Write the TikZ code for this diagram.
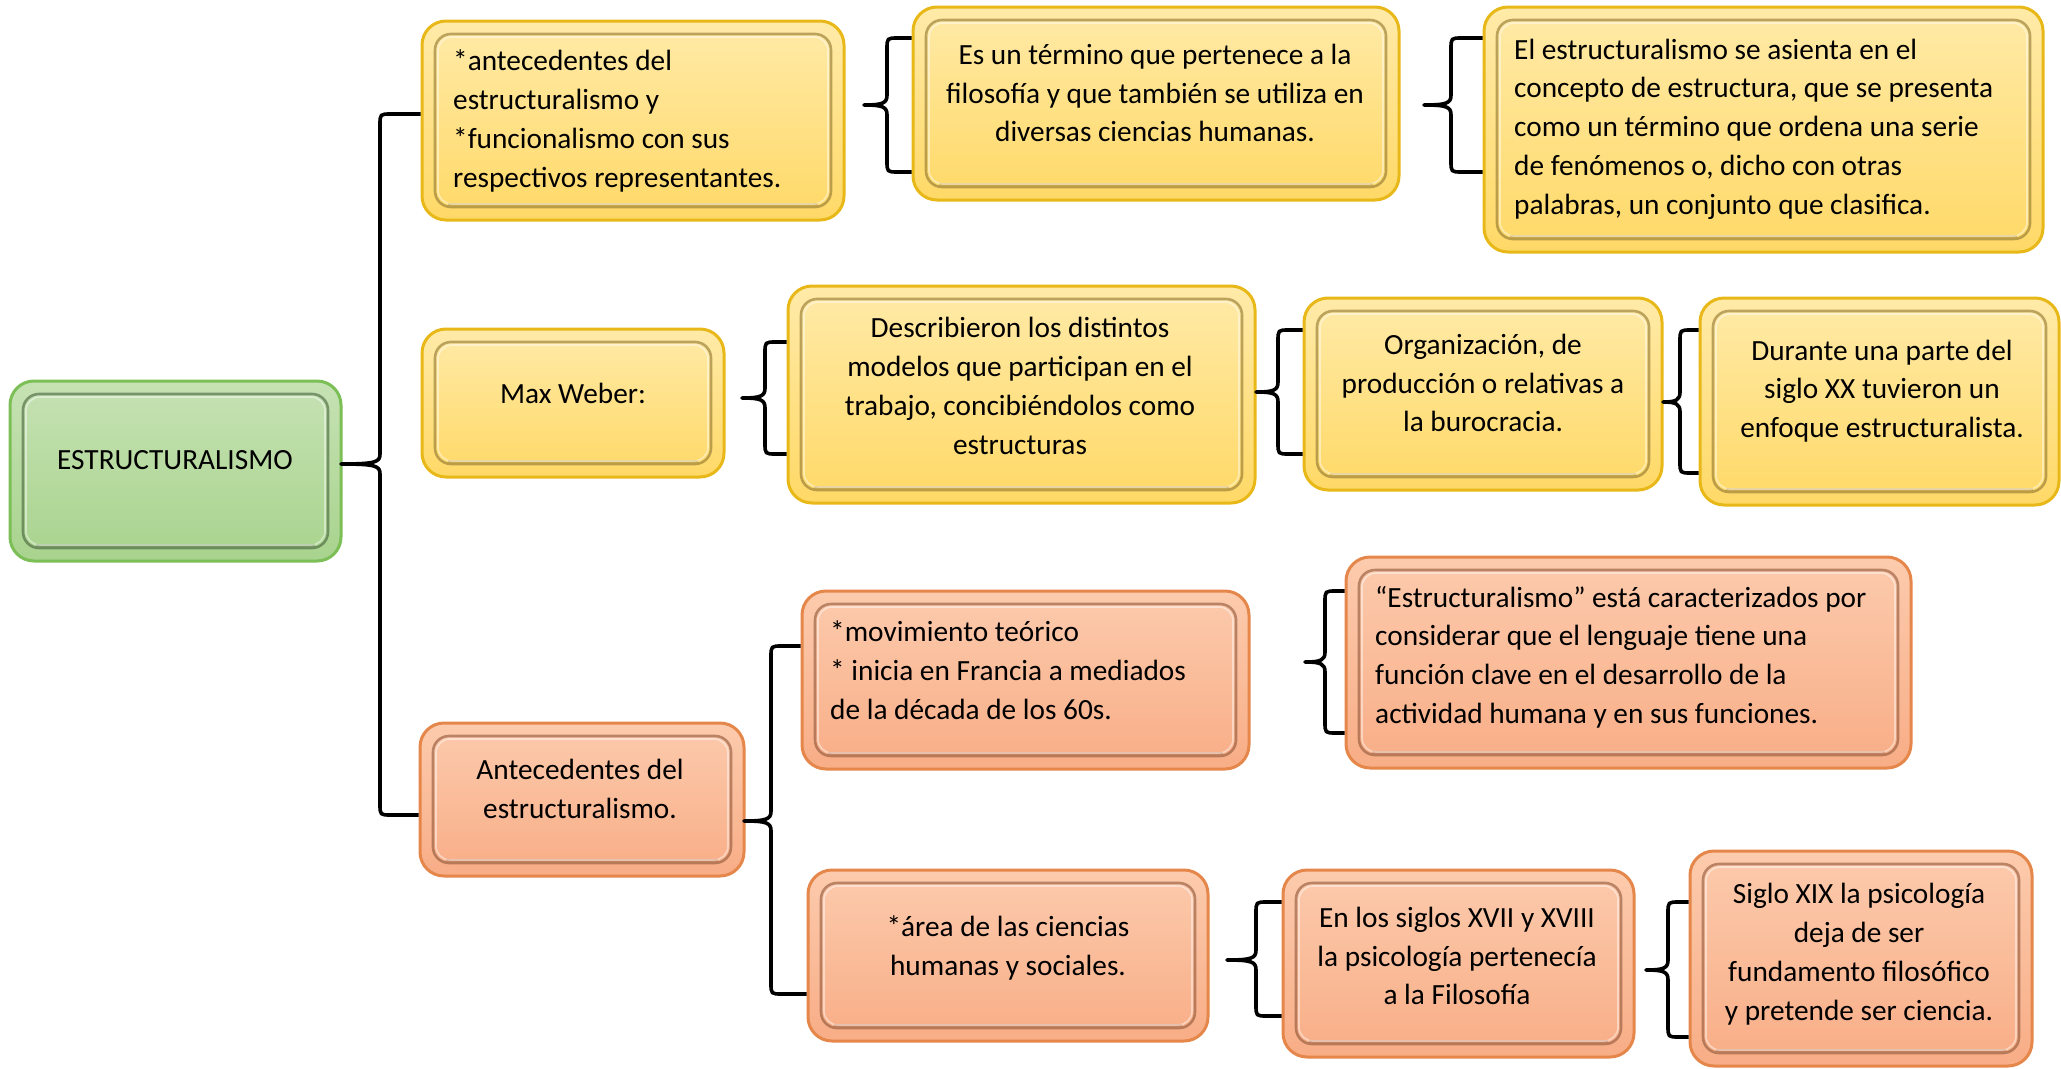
\documentclass[tikz,border=0pt]{standalone}
\usepackage{fontspec}
\setmainfont{Carlito}
\definecolor{ytop}{HTML}{FFEAA8}
\definecolor{ybot}{HTML}{FFD967}
\definecolor{ybord}{HTML}{E8B818}
\definecolor{ybev}{HTML}{8E7530}
\definecolor{gtop}{HTML}{C6E2B4}
\definecolor{gbot}{HTML}{A8D38D}
\definecolor{gbord}{HTML}{7CBF56}
\definecolor{gbev}{HTML}{45603A}
\definecolor{otop}{HTML}{FCCBAD}
\definecolor{obot}{HTML}{F8AD86}
\definecolor{obord}{HTML}{E5864A}
\definecolor{obev}{HTML}{8E5538}
\tikzset{
  bx/.style={rounded corners=24pt, line width=3pt, inner sep=0pt,
    path picture={
      \draw[rounded corners=16pt, line width=2.6pt, draw=#1, opacity=.6]
        ([shift={(13pt,-13pt)}]path picture bounding box.north west) rectangle
        ([shift={(-13pt,13pt)}]path picture bounding box.south east);
      \draw[line width=2.2pt, draw=#1, opacity=.35]
        ([shift={(26pt,15.5pt)}]path picture bounding box.south west) --
        ([shift={(-26pt,15.5pt)}]path picture bounding box.south east);
      \draw[rounded corners=14pt, line width=1.6pt, draw=white, opacity=.45]
        ([shift={(16pt,-16pt)}]path picture bounding box.north west) rectangle
        ([shift={(-16pt,16pt)}]path picture bounding box.south east);
    }},
  ybox/.style={bx=ybev, draw=ybord, top color=ytop, bottom color=ybot},
  gbox/.style={bx=gbev, draw=gbord, top color=gtop, bottom color=gbot},
  obox/.style={bx=obev, draw=obord, top color=otop, bottom color=obot},
  txt/.style={font=\fontsize{29.3}{38.8}\selectfont, inner sep=0pt, text=black, align=center},
  ltxt/.style={txt, align=left, anchor=west},
  brc/.style={draw=black, line width=3.6pt, line join=round},
}
\newcommand\mkbox[6]{%
  \node[#6, minimum width={(#4-#2)*1pt}, minimum height={(#5-#3)*1pt}] (#1) at ({(#2+#4)/2},{(#3+#5)/2}) {};}
\newcommand\brk[7]{%
  \coordinate (bt) at (0,#5);
  \coordinate (bb) at (0,#7);
  \draw[brc] (#1.west |- bt) -- (#4+11,#5) .. controls (#4,#5) .. (#4,#5+11)
    -- (#4,#6-10) .. controls (#4,#6-2) and (#4-4,#6) .. (#3,#6)
    .. controls (#4-4,#6) and (#4,#6+2) .. (#4,#6+10)
    -- (#4,#7-11) .. controls (#4,#7) .. (#4+11,#7) -- (#2.west |- bb);}
\begin{document}
\begin{tikzpicture}[x=1pt,y=-1pt]
\useasboundingbox (0,0) rectangle (2061,1068);
% boxes
\mkbox{g}{10}{381}{341}{561}{gbox}
\mkbox{y1}{422}{21}{844}{220}{ybox}
\mkbox{y2}{913}{7}{1399}{200}{ybox}
\mkbox{y3}{1484}{7}{2043}{252}{ybox}
\mkbox{y4}{422}{329}{724}{477}{ybox}
\mkbox{y5}{788}{286}{1255}{503}{ybox}
\mkbox{y6}{1304}{298}{1662}{490}{ybox}
\mkbox{y7}{1700}{298}{2059}{505}{ybox}
\mkbox{o1}{420}{723}{744}{876}{obox}
\mkbox{o2}{802}{591}{1249}{769}{obox}
\mkbox{o3}{1346}{557}{1911}{768}{obox}
\mkbox{o4}{808}{870}{1208}{1041}{obox}
\mkbox{o5}{1283}{870}{1634}{1057}{obox}
\mkbox{o6}{1690}{851}{2032}{1066}{obox}
% texts
\node[txt] (gt) at (175,460) {ESTRUCTURALISMO};
\node[ltxt] (y1t) at (453,121) {*antecedentes del\\estructuralismo y\\*funcionalismo con sus\\respectivos representantes.};
\node[txt] (y2t) at (1155,93) {Es un término que pertenece a la\\filosofía y que también se utiliza en\\diversas ciencias humanas.};
\node[ltxt] (y3t) at (1514,129) {El estructuralismo se asienta en el\\concepto de estructura, que se presenta\\como un término que ordena una serie\\de fenómenos o, dicho con otras\\palabras, un conjunto que clasifica.};
\node[txt] (y4t) at (573,393) {Max Weber:};
\node[txt] (y5t) at (1020,386) {Describieron los distintos\\modelos que participan en el\\trabajo, concibiéndolos como\\estructuras};
\node[txt] (y6t) at (1483,383) {Organización, de\\producción o relativas a\\la burocracia.};
\node[txt] (y7t) at (1882,391) {Durante una parte del\\siglo XX tuvieron un\\enfoque estructuralista.};
\node[txt] (o1t) at (580,789) {Antecedentes del\\estructuralismo.};
\node[ltxt] (o2t) at (830,670) {*movimiento teórico\\* inicia en Francia a mediados\\de la década de los 60s.};
\node[ltxt] (o3t) at (1375,657) {“Estructuralismo” está caracterizados por\\considerar que el lenguaje tiene una\\función clave en el desarrollo de la\\actividad humana y en sus funciones.};
\node[txt] (o4t) at (1008,948) {*área de las ciencias\\humanas y sociales.};
\node[txt] (o5t) at (1457,956) {En los siglos XVII y XVIII\\la psicología pertenecía\\a la Filosofía};
\node[txt] (o6t) at (1859,954) {Siglo XIX la psicología\\deja de ser\\fundamento filosófico\\y pretende ser ciencia.};
% braces
\brk{y1}{o1}{341}{380}{114}{464}{815}
\brk{y2}{y2}{864}{887}{38}{105}{172}
\brk{y3}{y3}{1424}{1451}{38}{105}{172}
\brk{y5}{y5}{742}{765}{342}{398}{454}
\brk{y6}{y6}{1256}{1278}{330}{392}{454}
\brk{y7}{y7}{1663}{1680}{330}{402}{473}
\brk{o2}{o4}{744}{771}{646}{821}{994}
\brk{o3}{o3}{1305}{1325}{591}{662}{733}
\brk{o5}{o5}{1227}{1256}{902}{960}{1016}
\brk{o6}{o6}{1646}{1668}{902}{970}{1037}
\end{tikzpicture}
\end{document}
